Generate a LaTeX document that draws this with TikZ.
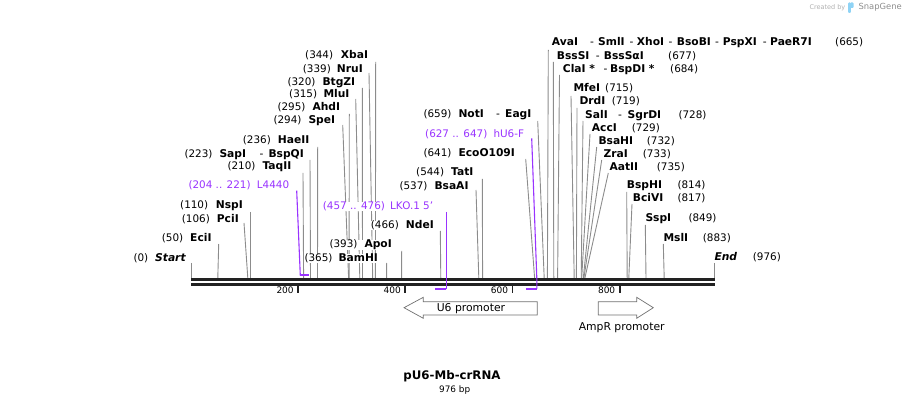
\documentclass[tikz,border=0pt]{standalone}
\usepackage{fontspec}
\setmainfont{DejaVu Sans}
\usetikzlibrary{backgrounds}
\definecolor{cutgray}{HTML}{8C8C8C}
\definecolor{primer}{HTML}{9933FF}
\definecolor{barblack}{HTML}{222222}
\definecolor{featgray}{HTML}{707070}
\definecolor{sglogo}{HTML}{8FD3F5}
\definecolor{sgtext}{HTML}{B0B0B0}
\newcommand\seg[2]{\makebox[#1pt][l]{#2}}
\newcommand\gapbox[3]{\makebox[\dimexpr #1pt-#2pt\relax][l]{#3}}
\newcommand\dsh{\mdseries -}
\tikzset{
  numlbl/.style={inner sep=0pt, fill=white, text height=7.5pt, text depth=2.2pt, font=\fontsize{10.4}{12}\selectfont},
  namelbl/.style={numlbl, font=\fontsize{10.7}{12}\selectfont\bfseries},
  primlbl/.style={numlbl, text=primer},
  cutline/.style={draw=cutgray, line width=0.9pt},
  primline/.style={draw=primer, line width=1.1pt},
  primmark/.style={draw=primer, line width=2pt},
  barline/.style={draw=barblack, line width=3pt},
  tickline/.style={draw=barblack, line width=1.8pt},
  ticklbl/.style={inner sep=0pt, font=\fontsize{9}{10}\selectfont},
  featarrow/.style={draw=featgray, line width=0.7pt, fill=white},
  featlbl/.style={inner sep=0pt, font=\fontsize{10.8}{12}\selectfont},
}
% left label: number, then name
\newcommand\siteL[9]{%
  \node[numlbl,anchor=base west] (n#1) at (#2,#4+3.75) {\gapbox{#3}{#2}{(#5)}};
  \node[namelbl,anchor=base west] (e#1) at (#3,#4+3.75) {#6};
  \coordinate (t#1) at (#7,#8);
  \coordinate (b#1) at (#9,278);
  \begin{pgfonlayer}{background}\draw[cutline] (t#1) -- (b#1);\end{pgfonlayer}}
% right label: name, then number
\newcommand\siteR[9]{%
  \node[namelbl,anchor=base west] (e#1) at (#3,#4+3.75) {\gapbox{#2}{#3}{#6}};
  \node[numlbl,anchor=base west] (n#1) at (#2,#4+3.75) {(#5)};
  \coordinate (t#1) at (#7,#8);
  \coordinate (b#1) at (#9,278);
  \begin{pgfonlayer}{background}\draw[cutline] (t#1) -- (b#1);\end{pgfonlayer}}
\begin{document}
\begin{tikzpicture}[x=1pt,y=-1pt]
\useasboundingbox (0,0) rectangle (906,406);
% sequence bar
\coordinate (barTL) at (191,279.5); \coordinate (barTR) at (714.8,279.5);
\coordinate (barBL) at (191,284.5); \coordinate (barBR) at (714.8,284.5);
\draw[barline] (barTL) -- (barTR);
\draw[barline] (barBL) -- (barBR);
% ticks
\foreach \p/\x in {200/298.2,400/405.3,600/512.5,800/619.7}{
  \coordinate (tk\p a) at (\x,286); \coordinate (tk\p b) at (\x,293);
  \draw[tickline] (tk\p a) -- (tk\p b);
  \node[ticklbl,anchor=east] (tl\p) at (\x-4.3,290.7) {\p};
}
% left-side sites
\siteL{Start}{133.3}{155}{257.3}{0}{\itshape Start}{191.7}{263}{191.7}
\siteL{EciI}{161.7}{190}{237.7}{50}{EciI}{218.7}{244}{217.8}
\siteL{PciI}{181.7}{216.7}{218.3}{106}{PciI}{244}{223}{247.8}
\siteL{NspI}{180}{215.7}{205}{110}{NspI}{250}{212}{250}
\siteL{TaqII}{227.3}{262.3}{166}{210}{TaqII}{303}{173}{303.6}
\siteL{SapI}{184.3}{219.3}{153.3}{223}{\seg{40}{SapI}\seg{9}{\dsh}BspQI}{310}{160}{310.5}
\siteL{HaeII}{242.7}{277.7}{140}{236}{HaeII}{317.7}{147}{317.5}
\siteL{SpeI}{273.3}{308.3}{120}{294}{SpeI}{342.7}{125}{348.6}
\siteL{AhdI}{277.3}{312.3}{106.7}{295}{AhdI}{349.3}{114}{349.1}
\siteL{MluI}{289}{323.3}{93.3}{315}{MluI}{355.7}{99}{359.8}
\siteL{BtgZI}{287.3}{322.3}{81.7}{320}{BtgZI}{362.3}{88}{362.5}
\siteL{NruI}{302.7}{336.7}{68.3}{339}{NruI}{369}{73}{372.7}
\siteL{XbaI}{305}{340.7}{55}{344}{XbaI}{375.7}{62}{375.4}
\siteL{BamHI}{304.3}{338.3}{257.3}{365}{BamHI}{386.7}{263}{386.6}
\siteL{ApoI}{329.3}{364.3}{244}{393}{ApoI}{401.7}{251}{401.6}
\siteL{NdeI}{370.7}{405.7}{224.3}{466}{NdeI}{440.3}{231}{440.8}
\siteL{BsaAI}{399.3}{434.3}{185.3}{537}{BsaAI}{476}{190}{478.8}
\siteL{TatI}{416}{451}{171.7}{544}{TatI}{482.3}{179}{482.6}
\siteL{EcoO}{423.3}{458.3}{152.7}{641}{EcoO109I}{525.7}{159}{534.6}
\siteL{NotI}{423.3}{458.3}{114}{659}{\seg{37.7}{NotI}\seg{9}{\dsh}EagI}{537.7}{121}{544.2}
% right-side sites
\siteR{AvaI}{835}{551.7}{42}{665}{\seg{38.3}{AvaI}\seg{8}{\dsh}\seg{31.3}{SmlI}\seg{7.4}{\dsh}\seg{31.6}{XhoI}\seg{8.4}{\dsh}\seg{38.3}{BsoBI}\seg{7.7}{\dsh}\seg{40}{PspXI}\seg{7.3}{\dsh}PaeR7I}{548.3}{50}{547.4}
\siteR{BssSI}{668}{556.7}{55.3}{677}{\seg{39}{BssSI}\seg{8}{\dsh}BssSαI}{553.3}{62}{553.8}
\siteR{ClaI}{670}{562.7}{68.6}{684}{\seg{40.6}{ClaI *}\seg{6.7}{\dsh}BspDI *}{559.5}{75}{557.6}
\siteR{MfeI}{605}{573.3}{88}{715}{MfeI}{571}{96}{574.2}
\siteR{DrdI}{611.7}{579.3}{101}{719}{DrdI}{577}{108}{576.4}
\siteR{SalI}{678.3}{585}{114.3}{728}{\seg{33}{SalI}\seg{9.5}{\dsh}SgrDI}{583}{121}{581.2}
\siteR{AccI}{631.7}{591.7}{127.3}{729}{AccI}{590}{134}{581.7}
\siteR{BsaHI}{646.7}{598.3}{140.3}{732}{BsaHI}{596.7}{147}{583.3}
\siteR{ZraI}{642.7}{603.3}{153.3}{733}{ZraI}{601.7}{160}{583.9}
\siteR{AatII}{656.7}{609.3}{166.7}{735}{AatII}{608.3}{173}{584.9}
\siteR{BspHI}{677.3}{626.7}{185}{814}{BspHI}{626.7}{192}{627.2}
\siteR{BciVI}{677.3}{632.7}{198}{817}{BciVI}{632}{204}{628.8}
\siteR{SspI}{688.3}{645.3}{217.7}{849}{SspI}{645.3}{225}{646}
\siteR{MslI}{702.7}{663.3}{237.3}{883}{MslI}{663.3}{244}{664.2}
\siteR{End}{752.7}{714.3}{257}{976}{\itshape End}{714.3}{263}{714.3}
% primers
\node[primlbl,anchor=base west] (nL4440) at (188.3,188.75) {\gapbox{256.7}{188.3}{(204 .. 221)}};
\node[primlbl,anchor=base west] (eL4440) at (256.7,188.75) {L4440};
\coordinate (tL4440) at (296.7,190.7); \coordinate (kL4440) at (300.3,275.5); \coordinate (mL4440) at (309.4,275.5);
\draw[primline] (tL4440) -- (kL4440);
\draw[primmark] (kL4440) -- (mL4440);
\node[primlbl,anchor=base west] (nLKO) at (322.7,209.25) {\gapbox{390}{322.7}{(457 .. 476)}};
\node[primlbl,anchor=base west] (eLKO) at (390,209.25) {LKO.1 5'};
\coordinate (tLKO) at (446.3,212); \coordinate (kLKO) at (446.3,289); \coordinate (mLKO) at (435.3,289);
\draw[primline] (tLKO) -- (kLKO);
\draw[primmark] (kLKO) -- (mLKO);
\node[primlbl,anchor=base west] (nhU6) at (425,137.05) {\gapbox{493.3}{425}{(627 .. 647)}};
\node[primlbl,anchor=base west] (ehU6) at (493.3,137.05) {hU6-F};
\coordinate (thU6) at (531.7,138.3); \coordinate (jhU6) at (536.8,278); \coordinate (khU6) at (536.8,289); \coordinate (mhU6) at (526.2,289);
\draw[primline] (thU6) -- (jhU6) -- (khU6);
\draw[primmark] (khU6) -- (mhU6);
% features
\draw[featarrow] (404,307.7) -- (423.3,297.3) -- (423.3,301.7) -- (537.3,301.7) -- (537.3,315) -- (423.3,315) -- (423.3,318.3) -- cycle;
\node[featlbl] (fU6) at (471,308.3) {U6 promoter};
\draw[featarrow] (598.3,301.7) -- (636.7,301.7) -- (636.7,297.3) -- (653.3,307.7) -- (636.7,318.3) -- (636.7,315) -- (598.3,315) -- cycle;
\node[featlbl] (fAmpR) at (621.7,328) {AmpR promoter};
% title
\node[inner sep=0pt, font=\fontsize{11.8}{13}\selectfont\bfseries] (title) at (452,376.7) {pU6-Mb-crRNA};
\node[inner sep=0pt, font=\fontsize{8.9}{10}\selectfont] (bp) at (454.7,390) {976 bp};
% watermark
\node[inner sep=0pt, anchor=west, text=sgtext, font=\fontsize{6.5}{7}\selectfont] (wm1) at (809.3,7.5) {Created by};
\fill[sglogo, rounded corners=1pt] (848,2.5) rectangle (850.8,13);
\fill[sglogo, rounded corners=1pt] (850,2.5) rectangle (853.5,8);
\node[inner sep=0pt, anchor=west, text=sgtext!80!black, font=\fontsize{8.4}{9}\selectfont] (wm2) at (858.3,7.5) {SnapGene};
\end{tikzpicture}
\end{document}
